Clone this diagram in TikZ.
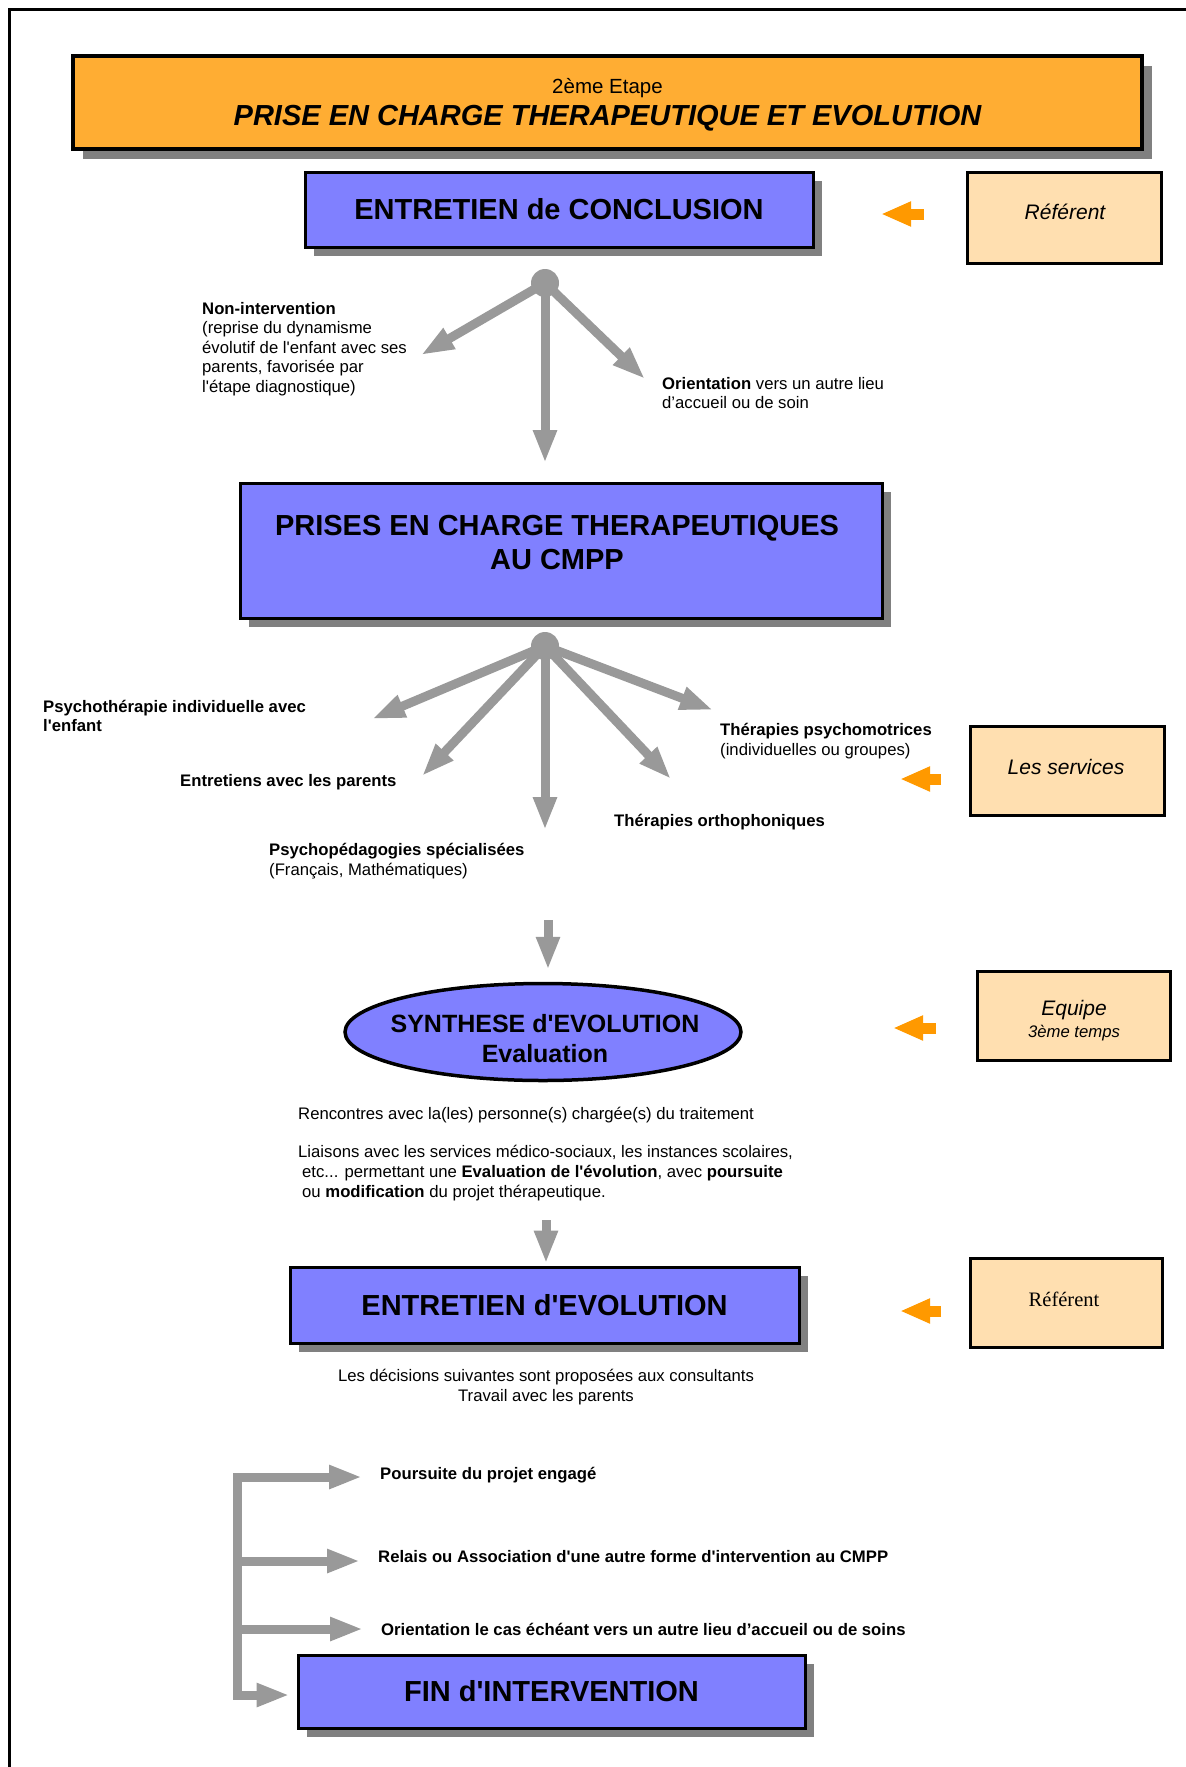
\documentclass[tikz,border=0pt]{standalone}
\usepackage{fontspec}
\setmainfont{Liberation Sans}
\newfontfamily\timesfont{Liberation Serif}
\usetikzlibrary{arrows.meta,shapes.geometric,shadows}

\definecolor{orangetitre}{HTML}{FFAD33}
\definecolor{bleubox}{HTML}{8080FF}
\definecolor{peche}{HTML}{FFDFB0}
\definecolor{flechegris}{HTML}{999999}
\definecolor{flecheorange}{HTML}{FF9900}
\definecolor{ombre}{HTML}{808080}

\newcommand{\apo}{\textquotesingle}

\tikzset{
    ombrebox/.style={drop shadow={shadow xshift=9pt, shadow yshift=-9pt, fill=ombre, opacity=1}},
    bluebox/.style={draw=black, line width=3pt, fill=bleubox, ombrebox, inner sep=0pt,
        align=center, font=\fontsize{29}{34}\selectfont\bfseries},
    pechebox/.style={draw=black, line width=3pt, fill=peche, inner sep=0pt},
    pechetxt/.style={inner sep=0pt, align=center, font=\fontsize{21}{24}\selectfont\itshape},
    grayarrow/.style={draw=flechegris, line width=9pt, -{Triangle[length=33pt, width=22pt]}},
    orangearrow/.style={draw=flecheorange, line width=11pt, -{Triangle[length=30pt, width=23pt]}},
    hub/.style={circle, fill=flechegris, minimum size=28pt, inner sep=0pt},
    smalltxt/.style={inner sep=0pt, anchor=west, align=left, font=\fontsize{16.7}{19.6}\selectfont},
    boldtxt/.style={smalltxt, font=\fontsize{16.7}{19.6}\selectfont\bfseries},
}

\begin{document}
\begin{tikzpicture}[x=1pt, y=-1pt]
    \useasboundingbox (0,0) rectangle (1186,1767);
    % page frame
    \draw[line width=3pt] (9,1767) -- (9,9) -- (1186,9);

    % Title
    \node[draw=black, line width=4pt, fill=orangetitre, inner sep=0pt,
        drop shadow={shadow xshift=10pt, shadow yshift=-10pt, fill=ombre, opacity=1},
        minimum width=1069pt, minimum height=93pt] (titre) at (607.5,102.5) {};
    \node[font=\fontsize{20.5}{24}\selectfont] (etape) at (607.5,88) {2ème Etape};
    \node[font=\fontsize{29}{34}\selectfont\bfseries\itshape] (titretxt) at (607.5,118)
        {PRISE EN CHARGE THERAPEUTIQUE ET EVOLUTION};

    % Entretien de conclusion
    \node[bluebox, minimum width=508pt, minimum height=75pt] (concl) at (559,209.5)
        {ENTRETIEN de CONCLUSION};
    \node[pechebox, minimum width=194pt, minimum height=91pt] (ref1) at (1064,217.5) {};
    \node[pechetxt] (ref1txt) at (1065,212) {Référent};
    \coordinate (or1a) at (924,214);
    \coordinate (or1b) at (881,214);
    \draw[orangearrow] (or1a) -- (or1b);

    \node[hub] (hubA) at (545,283) {};
    \coordinate (tA1) at (421,355);
    \coordinate (tA2) at (545,463);
    \coordinate (tA3) at (645,379);
    \draw[grayarrow] (hubA.center) -- (tA1);
    \draw[grayarrow] (hubA.center) -- (tA2);
    \draw[grayarrow] (hubA.center) -- (tA3);

    \node[smalltxt] (nonint) at (202,349) {\textbf{Non-intervention}\\(reprise du dynamisme\\
        évolutif de l\apo enfant avec ses\\parents, favorisée par\\l\apo étape diagnostique)};
    \node[smalltxt] (orient1) at (662,393) {\textbf{Orientation} vers un autre lieu\\d’accueil ou de soin};

    % Prises en charge
    \node[bluebox, minimum width=642pt, minimum height=135pt] (prises) at (561,550.5) {};
    \node[inner sep=0pt, align=center, font=\fontsize{29}{34}\selectfont\bfseries] (prisestxt)
        at (557,543) {PRISES EN CHARGE THERAPEUTIQUES\\AU CMPP};

    \node[hub] (hubB) at (545,646) {};
    \coordinate (tB1) at (372,719);
    \coordinate (tB2) at (422,776);
    \coordinate (tB3) at (545,830);
    \coordinate (tB4) at (671,779);
    \coordinate (tB5) at (713,710);
    \foreach \t in {tB1,tB2,tB3,tB4,tB5}
        \draw[grayarrow] (hubB.center) -- (\t);

    \node[boldtxt] (psycho) at (43,716) {Psychothérapie individuelle avec\\l\apo enfant};
    \node[boldtxt] (parents) at (180,782) {Entretiens avec les parents};
    \node[smalltxt] (pedago) at (269,861) {\textbf{Psychopédagogies spécialisées}\\(Français, Mathématiques)};
    \node[boldtxt] (ortho) at (614,822) {Thérapies orthophoniques};
    \node[smalltxt] (motri) at (720,741) {\textbf{Thérapies psychomotrices}\\(individuelles ou groupes)};

    \node[pechebox, minimum width=194pt, minimum height=89pt] (serv) at (1067,770.5) {};
    \node[pechetxt] (servtxt) at (1066,767) {Les services};
    \coordinate (or2a) at (941,779);
    \coordinate (or2b) at (900,779);
    \draw[orangearrow] (or2a) -- (or2b);

    % Synthese
    \node[ellipse, draw=black, line width=3.5pt, fill=bleubox, inner sep=0pt,
        minimum width=396pt, minimum height=97pt] (synth) at (543,1032) {};
    \node[inner sep=0pt, align=center, font=\fontsize{25}{30}\selectfont\bfseries] (synthtxt)
        at (545,1039) {SYNTHESE d\apo EVOLUTION\\Evaluation};
    \coordinate (s1) at (548,920);
    \draw[grayarrow, shorten >=12pt] (s1) -- (s1 |- synth.north);

    \node[pechebox, minimum width=193pt, minimum height=89pt] (equipe) at (1073.5,1015.5) {};
    \node[pechetxt] (equipetxt) at (1074,1021)
        {Equipe\\[-2pt]{\fontsize{16.7}{19}\selectfont 3ème temps}};
    \coordinate (or3a) at (936,1028);
    \coordinate (or3b) at (893,1028);
    \draw[orangearrow] (or3a) -- (or3b);

    \node[smalltxt] (rencontres) at (298,1115) {Rencontres avec la(les) personne(s) chargée(s) du traitement};
    \node[smalltxt] (liaisons) at (298,1173) {Liaisons avec les services médico-sociaux, les instances scolaires,\\
        \hspace{4pt}etc... permettant une \textbf{Evaluation de l\apo évolution}, avec \textbf{poursuite}\\
        \hspace{4pt}ou \textbf{modification} du projet thérapeutique.};

    % Entretien d'evolution
    \coordinate (s2) at (546,1220);
    \node[bluebox, minimum width=509pt, minimum height=76pt] (evol) at (544.5,1305)
        {ENTRETIEN d\apo EVOLUTION};
    \draw[grayarrow, shorten >=2pt] (s2) -- (s2 |- evol.north);

    \node[pechebox, minimum width=192pt, minimum height=89pt] (ref3) at (1066,1302.5) {};
    \node[pechetxt, font=\fontsize{20.5}{24}\selectfont\timesfont] (ref3txt) at (1064,1299) {Référent};
    \coordinate (or4a) at (941,1311);
    \coordinate (or4b) at (900,1311);
    \draw[orangearrow] (or4a) -- (or4b);

    \node[smalltxt, anchor=center, align=center] (decisions) at (546,1387)
        {Les décisions suivantes sont proposées aux consultants\\Travail avec les parents};

    % Decisions
    \node[boldtxt] (pours) at (380,1475) {Poursuite du projet engagé};
    \node[boldtxt] (relais) at (378,1557) {Relais ou Association d\apo une autre forme d\apo intervention au CMPP};
    \node[boldtxt] (orient2) at (381,1629) {Orientation le cas échéant vers un autre lieu d’accueil ou de soins};
    \node[bluebox, minimum width=507pt, minimum height=73pt] (fin) at (551.5,1691.5) {FIN d\apo INTERVENTION};

    \coordinate (bk1) at (237.5,1477);
    \coordinate (bk2) at (237.5,1561);
    \coordinate (bk3) at (237.5,1629);
    \coordinate (bk4) at (237.5,1695);
    \draw[grayarrow, shorten >=18pt] (bk4) -- (bk1) -- (bk1 -| pours.west);
    \draw[grayarrow, shorten >=18pt] (bk2) -- (bk2 -| relais.west);
    \draw[grayarrow, shorten >=18pt] (bk3) -- (bk3 -| orient2.west);
    \draw[grayarrow, shorten >=7pt] (bk1) -- (bk4) -- (bk4 -| fin.west);
\end{tikzpicture}
\end{document}
